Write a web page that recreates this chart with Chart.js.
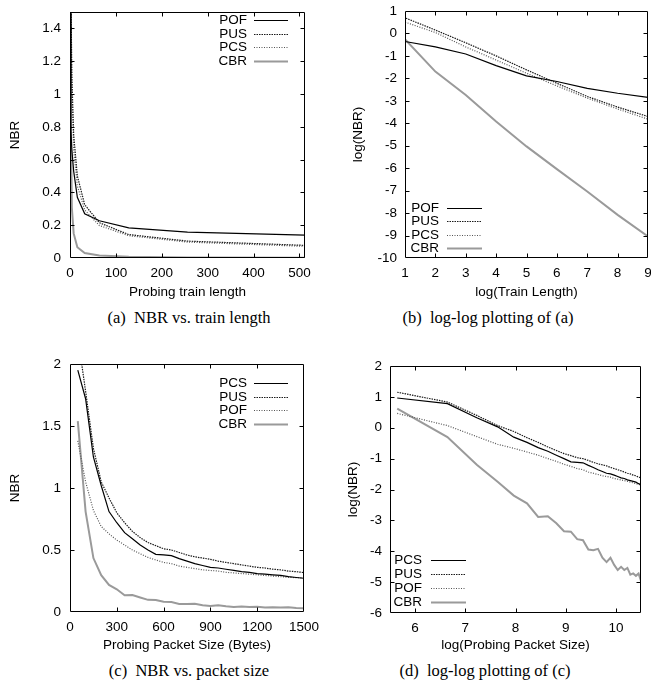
<!DOCTYPE html>
<html>
<head>
<meta charset="utf-8">
<script src="https://cdn.jsdelivr.net/npm/chart.js@4"></script>
<style>
  body { margin: 0; background: #fff; width: 651px; height: 689px; position: relative; overflow: hidden; }
  canvas { position: absolute; }
  .cap { position: absolute; width: 320px; text-align: center; font-family: "Liberation Serif", "Times New Roman", serif; font-size: 16.5px; color: #000; white-space: nowrap; }
</style>
</head>
<body>
<canvas id="ca" width="325" height="300" style="left:0;top:0"></canvas>
<canvas id="cb" width="326" height="300" style="left:325px;top:0"></canvas>
<canvas id="cc" width="325" height="300" style="left:0;top:353px"></canvas>
<canvas id="cd" width="326" height="300" style="left:325px;top:353px"></canvas>
<div class="cap" style="left:29px;top:308px">(a) &nbsp;NBR vs. train length</div>
<div class="cap" style="left:328px;top:308px">(b) &nbsp;log-log plotting of (a)</div>
<div class="cap" style="left:29px;top:661px">(c) &nbsp;NBR vs. packet size</div>
<div class="cap" style="left:325px;top:661px">(d) &nbsp;log-log plotting of (c)</div>
<script>
// probing train length experiment
const trainLen = [1, 2, 4, 8, 16, 32, 64, 128, 256, 512];
const trainPOF = [1.6, 0.78, 0.66, 0.53, 0.37, 0.27, 0.227, 0.184, 0.158, 0.139];
const trainPUS = [2.6, 1.62, 1.11, 0.75, 0.50, 0.325, 0.215, 0.143, 0.103, 0.077];
const trainPCS = [2.4, 1.42, 1.03, 0.66, 0.44, 0.293, 0.198, 0.136, 0.097, 0.071];
const trainCBR = [1.6, 0.835, 0.308, 0.150, 0.066, 0.0306, 0.0152, 0.0076, 0.0037, 0.0019];

// probing packet size experiment (bytes)
const pktSize = [50, 100, 150, 200, 250, 300, 350, 400, 450, 500, 550, 600, 650, 700, 750,
  800, 850, 900, 950, 1000, 1050, 1100, 1150, 1200, 1250, 1300, 1350, 1400, 1450, 1500];
const pktPCS = [1.95, 1.72, 1.25, 1.02, 0.81, 0.72, 0.64, 0.59, 0.54, 0.50, 0.465, 0.46, 0.455, 0.43, 0.41,
  0.39, 0.375, 0.36, 0.355, 0.345, 0.335, 0.325, 0.32, 0.31, 0.305, 0.30, 0.295, 0.285, 0.278, 0.272];
const pktPUS = [2.22, 1.78, 1.32, 1.05, 0.92, 0.80, 0.72, 0.65, 0.60, 0.56, 0.535, 0.51, 0.50, 0.48, 0.46,
  0.445, 0.435, 0.425, 0.41, 0.40, 0.39, 0.38, 0.37, 0.36, 0.355, 0.345, 0.34, 0.33, 0.325, 0.318];
const pktPOF = [1.38, 1.05, 0.82, 0.69, 0.63, 0.58, 0.54, 0.50, 0.47, 0.44, 0.42, 0.40, 0.39, 0.37, 0.36,
  0.35, 0.34, 0.335, 0.33, 0.32, 0.315, 0.31, 0.305, 0.30, 0.295, 0.29, 0.285, 0.28, 0.277, 0.275];
const pktCBR = [1.54, 0.81, 0.435, 0.297, 0.218, 0.183, 0.135, 0.137, 0.117, 0.098, 0.097, 0.082, 0.080, 0.065, 0.064,
  0.066, 0.054, 0.049, 0.054, 0.046, 0.041, 0.044, 0.041, 0.043, 0.037, 0.038, 0.036, 0.038, 0.032, 0.031];

// tick labels
const ticksA_x = [0, 100, 200, 300, 400, 500];
const ticksA_y = [0, 0.2, 0.4, 0.6, 0.8, 1, 1.2, 1.4];
const ticksB_x = [1, 2, 3, 4, 5, 6, 7, 8, 9];
const ticksB_y = [-10, -9, -8, -7, -6, -5, -4, -3, -2, -1, 0, 1];
const ticksC_x = [0, 300, 600, 900, 1200, 1500];
const ticksC_y = [0, 0.5, 1, 1.5, 2];
const ticksD_x = [6, 7, 8, 9, 10];
const ticksD_y = [-6, -5, -4, -3, -2, -1, 0, 1, 2];

const FONT = { family: '"Liberation Sans", Arial, sans-serif', size: 13.5 };

// gnuplot line types 1..4
const STYLES = [
  { borderColor: '#000', borderWidth: 1.2, borderDash: [] },
  { borderColor: '#1a1a1a', borderWidth: 1.2, borderDash: [1.5, 1] },
  { borderColor: '#555', borderWidth: 1.2, borderDash: [1, 1.5] },
  { borderColor: '#9a9a9a', borderWidth: 2, borderDash: [] }
];

function makeSets(names, xs, ys, log) {
  return names.map((name, i) => Object.assign({
    label: name,
    data: xs.map((x, j) => log ? { x: Math.log2(x), y: Math.log2(ys[i][j]) } : { x: x, y: ys[i][j] }),
    pointRadius: 0,
    tension: 0,
    fill: false
  }, STYLES[i]));
}

// box, inward mirror ticks and the in-plot key
const framePlugin = {
  id: 'frame',
  afterDatasetsDraw(chart, args, opts) {
    const { ctx, chartArea: a, scales } = chart;
    const L = Math.round(a.left) + 0.5, R = Math.round(a.right) - 0.5;
    const T = Math.round(a.top) + 0.5, B = Math.round(a.bottom) - 0.5;
    ctx.save();
    ctx.strokeStyle = '#000';
    ctx.lineWidth = 1;
    ctx.setLineDash([]);
    ctx.beginPath();
    ctx.rect(L, T, R - L, B - T);
    const tl = 4;
    scales.x.ticks.forEach(t => {
      const px = Math.round(scales.x.getPixelForValue(t.value)) + 0.5;
      if (px <= L + 1 || px >= R - 1) return;
      ctx.moveTo(px, B); ctx.lineTo(px, B - tl);
      ctx.moveTo(px, T); ctx.lineTo(px, T + tl);
    });
    scales.y.ticks.forEach(t => {
      const py = Math.round(scales.y.getPixelForValue(t.value)) + 0.5;
      if (py <= T + 1 || py >= B - 1) return;
      ctx.moveTo(L, py); ctx.lineTo(L + tl, py);
      ctx.moveTo(R, py); ctx.lineTo(R - tl, py);
    });
    ctx.stroke();

    const k = opts.key;
    ctx.font = FONT.size + 'px ' + FONT.family;
    ctx.fillStyle = '#000';
    ctx.textAlign = 'right';
    ctx.textBaseline = 'middle';
    chart.data.datasets.forEach((ds, i) => {
      const y = Math.round(k.y + i * k.dy) + 0.5;
      ctx.fillText(ds.label, k.textX, y);
      ctx.beginPath();
      ctx.strokeStyle = ds.borderColor;
      ctx.lineWidth = ds.borderWidth;
      ctx.setLineDash(ds.borderDash);
      ctx.moveTo(k.x1, y);
      ctx.lineTo(k.x2, y);
      ctx.stroke();
    });
    ctx.restore();
  }
};

function axis(min, max, tickVals, title, o) {
  return {
    type: 'linear', min: min, max: max,
    grid: { display: false, drawTicks: false },
    border: { display: false },
    afterBuildTicks: s => { s.ticks = tickVals.map(v => ({ value: v })); },
    afterFit: s => {
      if (s.isHorizontal()) s.height = o.size; else s.width = o.size;
      s.paddingLeft = s.paddingRight = s.paddingTop = s.paddingBottom = 0;
    },
    ticks: { autoSkip: false, maxRotation: 0, color: '#000', font: FONT, padding: o.tickPad, callback: v => String(v) },
    title: { display: true, text: title, color: '#000', font: FONT, padding: { top: o.titlePad, bottom: o.titlePad } }
  };
}

function draw(id, datasets, xAx, yAx, pad, key) {
  new Chart(document.getElementById(id), {
    type: 'line',
    data: { datasets: datasets },
    options: {
      responsive: false,
      animation: false,
      devicePixelRatio: 1,
      layout: { padding: pad },
      scales: { x: xAx, y: yAx },
      plugins: { legend: { display: false }, tooltip: { enabled: false }, frame: { key: key } }
    },
    plugins: [framePlugin]
  });
}

const namesA = ['POF', 'PUS', 'PCS', 'CBR'];
const namesC = ['PCS', 'PUS', 'POF', 'CBR'];

draw('ca', makeSets(namesA, trainLen, [trainPOF, trainPUS, trainPCS, trainCBR], false),
  axis(0, 512, ticksA_x, 'Probing train length', { size: 42, tickPad: 7, titlePad: 0 }),
  axis(0, 1.5, ticksA_y, 'NBR', { size: 70, tickPad: 9, titlePad: 7 }),
  { top: 12, right: 20, bottom: 0, left: 0 },
  { textX: 247, x1: 254, x2: 288, y: 20, dy: 13.7 });

draw('cb', makeSets(namesA, trainLen, [trainPOF, trainPUS, trainPCS, trainCBR], true),
  axis(1, 9, ticksB_x, 'log(Train Length)', { size: 42, tickPad: 7, titlePad: 0 }),
  axis(-10, 1, ticksB_y, 'log(NBR)', { size: 80, tickPad: 8, titlePad: 25 }),
  { top: 11, right: 3, bottom: 0, left: 0 },
  { textX: 114, x1: 122, x2: 157, y: 208, dy: 13.4 });

draw('cc', makeSets(namesC, pktSize, [pktPCS, pktPUS, pktPOF, pktCBR], false),
  axis(0, 1500, ticksC_x, 'Probing Packet Size (Bytes)', { size: 41, tickPad: 7, titlePad: 0 }),
  axis(0, 2, ticksC_y, 'NBR', { size: 70, tickPad: 9, titlePad: 7 }),
  { top: 11, right: 21, bottom: 0, left: 0 },
  { textX: 247, x1: 254, x2: 288, y: 30, dy: 13.7 });

draw('cd', makeSets(namesC, pktSize, [pktPCS, pktPUS, pktPOF, pktCBR], true),
  axis(5.5, 10.5, ticksD_x, 'log(Probing Packet Size)', { size: 40, tickPad: 7, titlePad: 0 }),
  axis(-6, 2, ticksD_y, 'log(NBR)', { size: 65, tickPad: 8, titlePad: 20 }),
  { top: 13, right: 10, bottom: 0, left: 0 },
  { textX: 97, x1: 106, x2: 141, y: 207, dy: 14 });
</script>
</body>
</html>
